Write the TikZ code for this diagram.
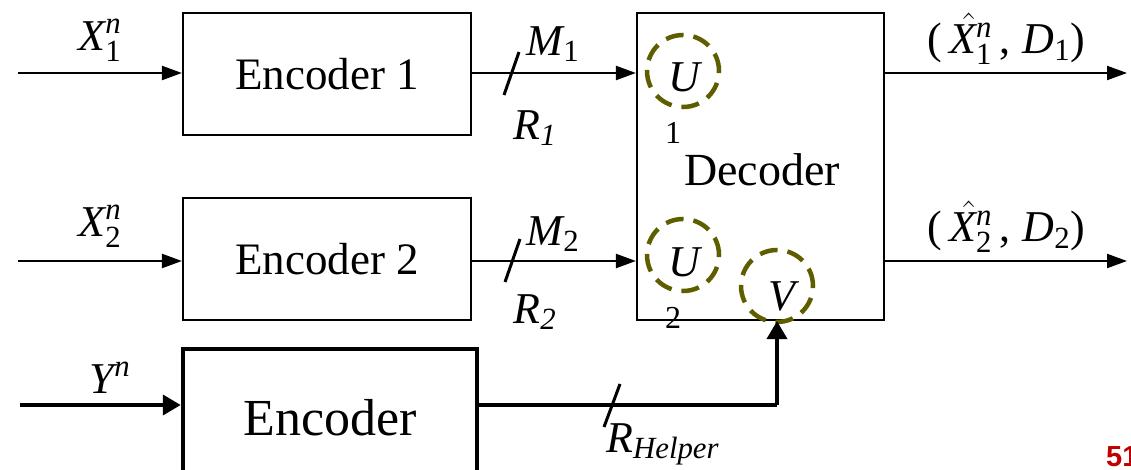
\RequirePackage{fix-cm}
\documentclass[tikz,border=0pt]{standalone}
\usepackage{amsmath}
\usepackage{fontspec}
\setmainfont{Liberation Serif}
\newfontfamily\redfont{Liberation Sans}
\usetikzlibrary{arrows.meta}
\newcommand{\mi}[1]{\textit{#1}}
\newcommand{\tr}[1]{\textrm{#1}}
\definecolor{olivedash}{RGB}{94,94,0}
\definecolor{slidered}{RGB}{192,0,0}
\begin{document}
\begin{tikzpicture}[x=1pt,y=-1pt,
  blk/.style={draw, line width=2.2pt, fill=white, inner sep=0pt, font=\fontsize{45}{50}\selectfont},
  thickblk/.style={draw, line width=4.5pt, fill=white, inner sep=0pt, font=\fontsize{52}{58}\selectfont},
  ar/.style={line width=2.2pt, -{Triangle[length=20pt,width=14pt]}},
  thickar/.style={line width=4pt, -{Triangle[length=18pt,width=20pt]}},
  thickline/.style={line width=4pt},
  slash/.style={line width=3pt},
  lab/.style={inner sep=0pt, font=\fontsize{44}{48}\selectfont},
  small/.style={inner sep=0pt, font=\fontsize{32}{36}\selectfont},
  dc/.style={circle, draw=olivedash, line width=4.5pt, dash pattern=on 18pt off 10pt, minimum size=72pt, inner sep=0pt},
]
\useasboundingbox (0,0) rectangle (1131,470);
\clip (0,0) rectangle (1131,470);

% blocks
\node[blk, minimum width=288pt, minimum height=122pt] (enc1) at (327,74) {Encoder 1};
\node[blk, minimum width=288pt, minimum height=122pt] (enc2) at (327,259) {Encoder 2};
\node[thickblk, minimum width=294pt, minimum height=138pt] (enc) at (330,418) {Encoder};
\node[blk, minimum width=247pt, minimum height=307pt] (dec) at (760.5,166.5) {};
\node[inner sep=0pt, font=\fontsize{46}{50}\selectfont] (dect) at (762,170) {Decoder};

% dashed circles
\node[dc] (u1) at (683,71) {};
\node[dc] (u2) at (683,255) {};
\node[dc] (v) at (777,286) {};
\node[lab] (u1t) at (684,77) {$\mi{U}$};
\node[lab] (u2t) at (684,262) {$\mi{U}$};
\node[lab] (vt) at (782,296) {$\mi{V}$};
\node[small] (one) at (673,133) {1};
\node[small] (two) at (673,318) {2};

% inputs
\coordinate (x1in) at (18,73);
\coordinate (x2in) at (18,261);
\coordinate (yin) at (20,405);
\draw[ar] (x1in) -- (x1in -| enc1.west);
\draw[ar] (x2in) -- (x2in -| enc2.west);
\draw[thickar] (yin) -- (yin -| enc.west);
\node[lab] (x1l) at (100,40) {$\mi{X}^{\mi{n}}_{\tr{1}}$};
\node[lab] (x2l) at (100,226) {$\mi{X}^{\mi{n}}_{\tr{2}}$};
\node[lab] (yl) at (110,378) {$\mi{Y}^{\mi{n}}$};

% encoder to decoder
\draw[ar] (enc1.east |- x1in) -- (dec.west |- x1in);
\draw[ar] (enc2.east |- x2in) -- (dec.west |- x2in);
\coordinate (s1a) at (504,95); \coordinate (s1b) at (519,52);
\coordinate (s2a) at (505,282); \coordinate (s2b) at (520,239);
\draw[slash] (s1a) -- (s1b);
\draw[slash] (s2a) -- (s2b);
\node[lab] (m1) at (553,44) {$\mi{M}_{\tr{1}}$};
\node[lab] (m2) at (553,234) {$\mi{M}_{\tr{2}}$};
\node[lab] (r1) at (535,128) {$\mi{R}_{\mi{1}}$};
\node[lab] (r2) at (535,312) {$\mi{R}_{\mi{2}}$};

% helper
\draw[thickline] (enc.east |- yin) -- (yin -| v);
\draw[thickar] (yin -| v) -- (dec.south -| v);
\coordinate (s3a) at (604,427); \coordinate (s3b) at (620,384);
\draw[slash] (s3a) -- (s3b);
\node[lab, anchor=base west] (rh) at (606,452) {$\mi{R}_{\mi{Helper}}$};

% outputs
\coordinate (o1) at (1127,73);
\coordinate (o2) at (1127,261);
\draw[ar] (dec.east |- o1) -- (o1);
\draw[ar] (dec.east |- o2) -- (o2);
\node[lab] (o1l) at (1006,39) {$\tr{(}\,\skew{5}{\hat}{\mi{X}}^{\mi{n}}_{\tr{1}}\,\tr{,}\;\mi{D}_{\tr{1}}\tr{)}$};
\node[lab] (o2l) at (1006,227) {$\tr{(}\,\skew{5}{\hat}{\mi{X}}^{\mi{n}}_{\tr{2}}\,\tr{,}\;\mi{D}_{\tr{2}}\tr{)}$};

% page number
\node[inner sep=0pt, anchor=base west, text=slidered, font=\redfont\bfseries\fontsize{29}{32}\selectfont] (pg) at (1106,466) {51};
\end{tikzpicture}
\end{document}
